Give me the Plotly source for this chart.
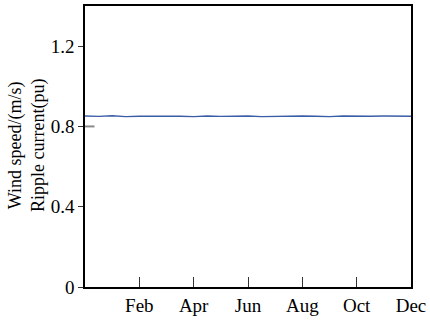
import plotly.graph_objects as go

# month positions (0 = start of Jan, 12 = end of Dec)
months = [0, 0.5, 1, 1.5, 2, 2.5, 3, 3.5, 4, 4.5, 5, 5.5, 6, 6.5, 7, 7.5, 8, 8.5, 9, 9.5, 10, 10.5, 11, 11.5, 12]
wind_ripple = [0.852, 0.850, 0.853, 0.849, 0.851, 0.852, 0.850, 0.851, 0.849, 0.852, 0.850, 0.851,
               0.852, 0.849, 0.851, 0.850, 0.852, 0.851, 0.849, 0.852, 0.850, 0.851, 0.852, 0.850, 0.851]
ref_x = [0, 0.35]
ref_y = [0.8, 0.8]
tick_vals = [2, 4, 6, 8, 10, 12]
tick_text = ["Feb", "Apr", "Jun", "Aug", "Oct", "Dec"]
y_ticks = [0, 0.4, 0.8, 1.2]
y_text = ["0", "0.4", "0.8", "1.2"]
y_title = "Wind speed/(m/s)<br>Ripple current(pu)"

font = "'Times New Roman', 'Liberation Serif', serif"

fig = go.Figure()
fig.add_trace(go.Scatter(x=ref_x, y=ref_y, mode="lines",
                         line=dict(color="#8a8a8a", width=2), showlegend=False))
fig.add_trace(go.Scatter(x=months, y=wind_ripple, mode="lines",
                         line=dict(color="#3a5da8", width=1.4), showlegend=False))

fig.add_annotation(text=y_title, xref="paper", yref="paper",
                   x=-0.178, y=0.505, xanchor="center", yanchor="middle",
                   textangle=-90, showarrow=False,
                   font=dict(family=font, size=18, color="black"))

fig.update_layout(
    width=430, height=320,
    margin=dict(l=85, r=12, t=4, b=27),
    paper_bgcolor="white", plot_bgcolor="white",
    font=dict(family=font, size=19, color="black"),
    xaxis=dict(range=[0, 12], tickvals=tick_vals, ticktext=tick_text,
               ticks="inside", ticklen=10, tickcolor="#333",
               ticklabeloverflow="allow",
               showline=True, linecolor="black", linewidth=1.5, mirror=True,
               showgrid=False, zeroline=False),
    yaxis=dict(range=[0, 1.4], tickvals=y_ticks, ticktext=y_text,
               ticks="outside", ticklen=5, tickcolor="#333",
               showline=True, linecolor="black", linewidth=1.5, mirror=True,
               showgrid=False, zeroline=False),
)

fig.write_html("out.html")
